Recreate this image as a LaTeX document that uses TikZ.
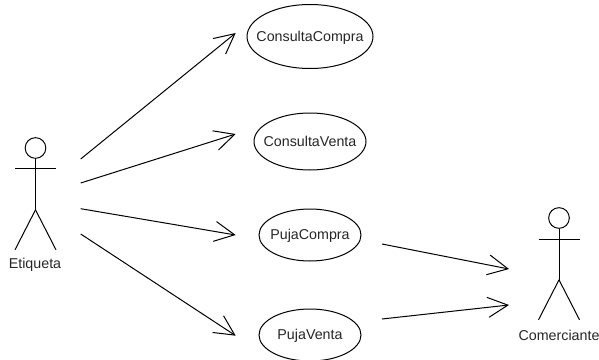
\documentclass[tikz,border=0pt]{standalone}
\usepackage{fontspec}
\setmainfont{Liberation Sans}
\usetikzlibrary{arrows.meta,shapes.geometric}
\newcommand{\uctext}[1]{\makebox[0pt]{\raisebox{-3.5pt}[0pt][0pt]{#1}}}
\begin{document}
\begin{tikzpicture}[x=0.75pt,y=-0.75pt,line width=0.75pt,font=\fontsize{10.7}{12}\selectfont,text=black!85,usecase/.style 2 args={shape=ellipse,draw=black,inner sep=0pt,minimum width=#1*1.5pt,minimum height=#2*1.5pt},actorhead/.style={shape=circle,draw=black,inner sep=0pt,minimum size=15.5pt},assoc/.style={-{Straight Barb[length=15pt,width=15pt]}}]
\def\xc{310};
\def\arm{20.5};
\def\leg{40};

\useasboundingbox (0,0) rectangle (599,360);

\node[usecase={63}{32}] (CC) at (\xc,36.5) {\uctext{ConsultaCompra}};
\node[usecase={56}{28.5}] (CV) at (\xc,141.5) {\uctext{ConsultaVenta}};
\node[usecase={51}{26}] (PC) at (\xc,235) {\uctext{PujaCompra}};
\node[usecase={51}{26}] (PV) at (\xc,335) {\uctext{PujaVenta}};

\node[actorhead] (E) at (35.5,148) {};
\node (El) at (35,265) {Etiqueta};
\draw (E.south) -- ++(0,51) coordinate (Eh);
\draw ([shift={(-\arm,20)}]E.center) -- ++(2*\arm,0);
\draw (Eh) -- ++(-\arm,\leg);
\draw (Eh) -- ++(\arm,\leg);

\node[actorhead] (M) at (559,218) {};
\node (Ml) at (559,335) {Comerciante};
\draw (M.south) -- ++(0,51) coordinate (Mh);
\draw ([shift={(-\arm,21)}]M.center) -- ++(2*\arm,0);
\draw (Mh) -- ++(-\arm,\leg);
\draw (Mh) -- ++(\arm,\leg);

\draw[assoc] ([shift={(45.2,11)}]E.center) -- ([shift={(-74.3,-3.5)}]CC.center);
\draw[assoc] ([shift={(45.2,35)}]E.center) -- ([shift={(-74.3,-7.5)}]CV.center);
\draw[assoc] ([shift={(45.2,60.7)}]E.center) -- ([shift={(-74.3,0)}]PC.center);
\draw[assoc] ([shift={(45.2,86)}]E.center) -- ([shift={(-74.3,0.7)}]PV.center);

\draw[assoc] ([shift={(72,9)}]PC.center) -- ([shift={(-50,51)}]M.center);
\draw[assoc] ([shift={(72,-16)}]PV.center) -- ([shift={(-50,87)}]M.center);
\end{tikzpicture}
\end{document}
